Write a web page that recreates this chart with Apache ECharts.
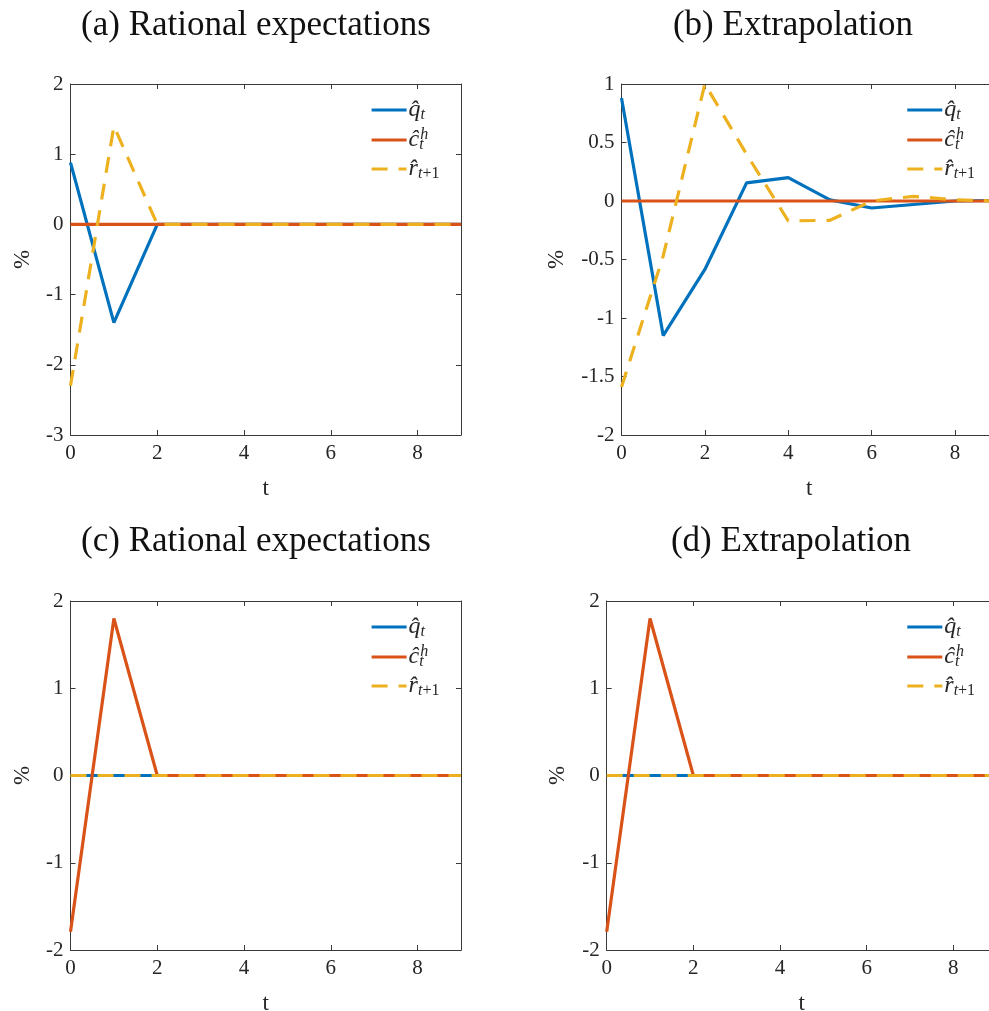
<!DOCTYPE html>
<html>
<head>
<meta charset="utf-8">
<script src="https://cdn.jsdelivr.net/npm/echarts@6/dist/echarts.min.js"></script>
<style>
html,body{margin:0;padding:0;background:#fff;}
#c{width:989px;height:1011px;}
</style>
</head>
<body>
<div id="c"></div>
<script>
// ---- data ----
const T = [0, 1, 2, 3, 4, 5, 6, 7, 8, 9];
const titles = ['(a) Rational expectations', '(b) Extrapolation', '(c) Rational expectations', '(d) Extrapolation'];
const seriesNames = ['q', 'c', 'r'];
// panel (a)
const a_q = [0.88, -1.40, 0, 0, 0, 0, 0, 0, 0, 0];
const a_c = [0, 0, 0, 0, 0, 0, 0, 0, 0, 0];
const a_r = [-2.30, 1.40, 0, 0, 0, 0, 0, 0, 0, 0];
// panel (b)
const b_q = [0.88, -1.15, -0.585, 0.155, 0.20, 0.01, -0.06, -0.03, 0.00, 0.005];
const b_c = [0, 0, 0, 0, 0, 0, 0, 0, 0, 0];
const b_r = [-1.59, -0.47, 1.00, 0.40, -0.17, -0.165, 0.00, 0.04, 0.01, 0.00];
// panel (c)
const c_q = [0, 0, 0, 0, 0, 0, 0, 0, 0, 0];
const c_c = [-1.79, 1.80, 0, 0, 0, 0, 0, 0, 0, 0];
const c_r = [0, 0, 0, 0, 0, 0, 0, 0, 0, 0];
// panel (d)
const d_q = [0, 0, 0, 0, 0, 0, 0, 0, 0, 0];
const d_c = [-1.79, 1.80, 0, 0, 0, 0, 0, 0, 0, 0];
const d_r = [0, 0, 0, 0, 0, 0, 0, 0, 0, 0];
// axis ranges
const yMin = [-3, -2, -2, -2];
const yMax = [2, 1, 2, 2];
const yStep = [1, 0.5, 1, 1];
const xMin = 0, xMax = 9, xStep = 2;

const panelData = [[a_q, a_c, a_r], [b_q, b_c, b_r], [c_q, c_c, c_r], [d_q, d_c, d_r]];

// ---- layout / style ----
const grids = [
  {left: 70.5, top: 84, width: 390.5, height: 351},
  {left: 621.5, top: 84, width: 375.2, height: 351},
  {left: 70.5, top: 601, width: 390.5, height: 349},
  {left: 606.7, top: 601, width: 390, height: 349}
];
const titlePos = [[256, 26], [793, 26], [256, 542], [791, 542]];
const yNameGap = [36, 53, 36, 37];
const colors = ['#0072BD', '#D95319', '#EDB120'];
const axisColor = '#3a3a3a';
const textColor = '#262626';
const serif = 'Liberation Serif';
const legendRows = [26, 55, 85];

const xAxes = [], yAxes = [], series = [], legends = [], graphics = [];

grids.forEach((g, p) => {
  xAxes.push({
    gridIndex: p, type: 'value', min: xMin, max: xMax, interval: xStep, position: 'bottom',
    name: 't', nameLocation: 'middle', nameGap: 42,
    nameTextStyle: {fontFamily: serif, fontSize: 23, color: textColor},
    axisLine: {show: true, onZero: false, lineStyle: {color: axisColor, width: 1}},
    axisTick: {show: true, inside: true, length: 5, lineStyle: {color: axisColor}},
    axisLabel: {show: true, margin: 8, fontFamily: serif, fontSize: 21, color: textColor, showMaxLabel: false},
    splitLine: {show: false}
  });
  xAxes.push({
    gridIndex: p, type: 'value', min: xMin, max: xMax, interval: xStep, position: 'top',
    axisLine: {show: true, onZero: false, lineStyle: {color: axisColor, width: 1}},
    axisTick: {show: true, inside: true, length: 5, lineStyle: {color: axisColor}},
    axisLabel: {show: false}, splitLine: {show: false}
  });
  yAxes.push({
    gridIndex: p, type: 'value', min: yMin[p], max: yMax[p], interval: yStep[p], position: 'left',
    name: '%', nameLocation: 'middle', nameGap: yNameGap[p], nameRotate: 90,
    nameTextStyle: {fontFamily: serif, fontSize: 23, color: textColor},
    axisLine: {show: true, onZero: false, lineStyle: {color: axisColor, width: 1}},
    axisTick: {show: true, inside: true, length: 5, lineStyle: {color: axisColor}},
    axisLabel: {show: true, margin: 7, fontFamily: serif, fontSize: 21, color: textColor},
    splitLine: {show: false}
  });
  yAxes.push({
    gridIndex: p, type: 'value', min: yMin[p], max: yMax[p], interval: yStep[p], position: 'right',
    axisLine: {show: true, onZero: false, lineStyle: {color: axisColor, width: 1}},
    axisTick: {show: true, inside: true, length: 5, lineStyle: {color: axisColor}},
    axisLabel: {show: false}, splitLine: {show: false}
  });

  panelData[p].forEach((vals, k) => {
    series.push({
      type: 'line', name: seriesNames[k], xAxisIndex: 2 * p, yAxisIndex: 2 * p,
      data: T.map((t, i) => [t, vals[i]]),
      symbol: 'none', smooth: false, animation: false,
      lineStyle: {color: colors[k], width: 3.2, type: k === 2 ? [16, 11] : 'solid'},
      itemStyle: {color: colors[k]}
    });
    legends.push({
      data: [seriesNames[k]], orient: 'vertical', padding: 0,
      left: g.left + g.width - 91, top: g.top + legendRows[k] - 12,
      itemWidth: 35, itemHeight: 14, itemGap: 0, selectedMode: false,
      lineStyle: {width: 3.2},
      itemStyle: {color: 'rgba(0,0,0,0)', borderColor: 'rgba(0,0,0,0)', borderWidth: 0, opacity: 0},
      formatter: function (name) {
        if (name === 'q') return '{v|q\u0302}{s|t}';
        if (name === 'c') return '{v|c\u0302}{sz|t}{h|h}';
        return '{v|r\u0302}{s|t}{su|+1}';
      },
      textStyle: {
        color: textColor, padding: [0, 0, 0, -3],
        rich: {
          v: {fontFamily: serif, fontStyle: 'italic', fontSize: 24, color: textColor, lineHeight: 26},
          s: {fontFamily: serif, fontStyle: 'italic', fontSize: 16, color: textColor, verticalAlign: 'bottom', lineHeight: 16},
          sz: {fontFamily: serif, fontStyle: 'italic', fontSize: 16, color: textColor, verticalAlign: 'bottom', lineHeight: 16, width: 1},
          su: {fontFamily: serif, fontSize: 16, color: textColor, verticalAlign: 'bottom', lineHeight: 16},
          h: {fontFamily: serif, fontStyle: 'italic', fontSize: 16, color: textColor, verticalAlign: 'top', lineHeight: 14}
        }
      }
    });
  });

  graphics.push({
    type: 'text', x: titlePos[p][0], y: titlePos[p][1],
    style: {text: titles[p], fill: '#111', font: '35px "' + serif + '"', textAlign: 'center', textVerticalAlign: 'middle'}
  });
});

const chart = echarts.init(document.getElementById('c'), null, {renderer: 'canvas'});
chart.setOption({
  animation: false,
  backgroundColor: '#fff',
  grid: grids.map(g => Object.assign({containLabel: false, outerBoundsMode: 'none'}, g)),
  xAxis: xAxes,
  yAxis: yAxes,
  legend: legends,
  series: series,
  graphic: graphics
});
</script>
</body>
</html>
